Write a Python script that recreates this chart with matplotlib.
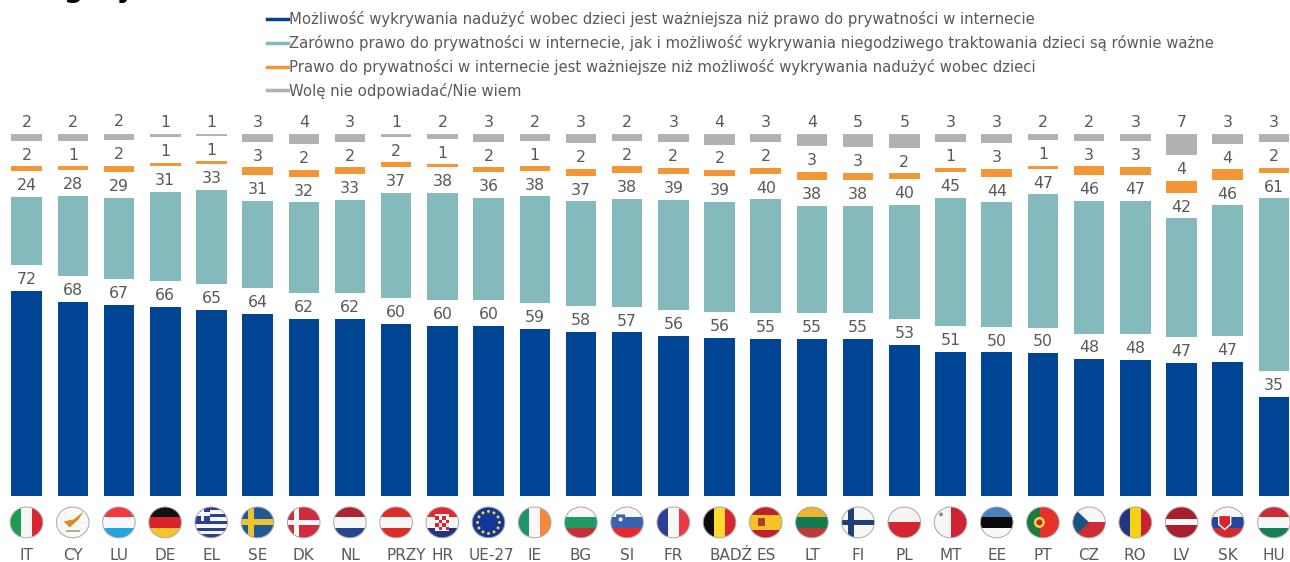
import numpy as np
import matplotlib
matplotlib.use("Agg")
import matplotlib.pyplot as plt
from matplotlib.lines import Line2D
from matplotlib.patches import Circle, Ellipse, Rectangle, Polygon
from matplotlib.transforms import ScaledTranslation

countries = ["IT", "CY", "LU", "DE", "EL", "SE", "DK", "NL", "PRZY", "HR", "UE-27", "IE", "BG", "SI",
             "FR", "BADŹ", "ES", "LT", "FI", "PL", "MT", "EE", "PT", "CZ", "RO", "LV", "SK", "HU"]
detect = [71.9, 68.1, 67.0, 66.3, 65.4, 64.0, 62.1, 62.1, 60.4, 59.8, 59.6, 58.55, 57.6, 57.4,
          56.3, 55.6, 55.1, 55.1, 55.1, 53.0, 50.6, 50.4, 50.1, 48.0, 47.7, 46.8, 47.0, 34.8]
both = [24.15, 28.1, 28.6, 31.35, 32.95, 30.6, 31.95, 32.75, 37.05, 37.5, 35.95, 37.6, 36.75, 37.8,
        38.7, 38.6, 40.0, 37.8, 37.6, 40.1, 45.1, 43.6, 46.75, 46.5, 46.9, 41.6, 46.0, 60.6]
privacy = [1.6, 1.4, 2.3, 1.3, 1.05, 2.7, 2.45, 2.45, 1.6, 1.05, 1.75, 1.45, 2.45, 2.45,
           2.1, 2.1, 2.1, 2.8, 2.7, 2.1, 1.4, 2.8, 1.05, 3.2, 2.8, 4.2, 3.6, 1.75]
dont_know = [2.35, 2.4, 2.4, 1.05, 0.6, 2.7, 3.6, 2.7, 1.05, 1.75, 2.7, 2.35, 3.2, 2.35,
             2.9, 3.75, 2.8, 4.3, 4.6, 4.8, 2.9, 3.2, 2.1, 2.3, 2.6, 7.4, 3.4, 2.9]
legend_labels = [
    "Możliwość wykrywania nadużyć wobec dzieci jest ważniejsza niż prawo do prywatności w internecie",
    "Zarówno prawo do prywatności w internecie, jak i możliwość wykrywania niegodziwego traktowania dzieci są równie ważne",
    "Prawo do prywatności w internecie jest ważniejsze niż możliwość wykrywania nadużyć wobec dzieci",
    "Wolę nie odpowiadać/Nie wiem",
]

W, H = 1290, 562
GAP = 9  # empty room left for the labels between the segments
colors = ["#004494", "#84BABB", "#F39736", "#B1B1B1"]
text_color = "#595959"

fig = plt.figure(figsize=(W / 100, H / 100), dpi=100)
ax = fig.add_axes([3.6 / W, (H - 496) / H, (W - 3.6) / W, 362 / H])

x = np.arange(len(countries))
bottom = np.zeros(len(countries))
for i, (vals, color) in enumerate(zip([detect, both, privacy, dont_know], colors)):
    vals = np.array(vals)
    ax.bar(x, vals, 0.66, bottom=bottom, color=color)
    for xi, b, v in zip(x, bottom, vals):
        ax.text(xi, b + v + 1.3, f"{v:.0f}", ha="center", va="bottom", fontsize=11.3,
                color=text_color, clip_on=False)
    bottom = bottom + vals + GAP

ax.set_xlim(-0.5, 27.35)
ax.set_ylim(0, 127)
ax.set_yticks([])
ax.set_xticks(x, countries)
ax.tick_params(axis="x", length=0, pad=37.5, labelsize=11, labelcolor=text_color)
for spine in ax.spines.values():
    spine.set_visible(False)

# the long labels sit right of their bars in the original
label_shift = {"PRZY": 10, "UE-27": 3, "BADŹ": 11}
for label in ax.get_xticklabels():
    if label.get_text() in label_shift:
        label.set_transform(label.get_transform() + ScaledTranslation(label_shift[label.get_text()] / 100, 0, fig.dpi_scale_trans))

handles = [Line2D([], [], color=c, lw=2.5) for c in colors]
fig.legend(handles, legend_labels, loc="upper left", bbox_to_anchor=(254 / W, 1 + 2 / H),
           frameon=False, fontsize=10.7, labelcolor=text_color, handlelength=1.4, handletextpad=0.05,
           labelspacing=0.52, borderaxespad=0.5)

# cut-off title at the top edge
fig.text(14 / W, 1 + 3 / H, "ategory)", fontsize=20, fontweight="bold", color="black", va="baseline")

# flags, in a pixel overlay
ov = fig.add_axes([0, 0, 1, 1], facecolor="none")
ov.set_xlim(0, W)
ov.set_ylim(H, 0)
ov.axis("off")
R = 16.3
RY = 15.4
CY = 522.4


def stripes(cx, cols, vertical=False, weights=None):
    weights = weights or [1] * len(cols)
    edges = np.cumsum([0] + weights) / sum(weights)
    out = []
    for c, a, b in zip(cols, edges[:-1], edges[1:]):
        if vertical:
            out.append(Rectangle((cx - R + a * 2 * R, CY - RY), (b - a) * 2 * R, 2 * RY, color=c, lw=0))
        else:
            out.append(Rectangle((cx - R, CY - RY + a * 2 * RY), 2 * R, (b - a) * 2 * RY, color=c, lw=0))
    return out


def cross(cx, bg, fg, w=6):
    return [Rectangle((cx - R, CY - RY), 2 * R, 2 * RY, color=bg, lw=0),
            Rectangle((cx - 7 - w / 2, CY - RY), w, 2 * RY, color=fg, lw=0),
            Rectangle((cx - R, CY - w / 2), 2 * R, w, color=fg, lw=0)]


def flag_patches(code, cx):
    if code == "IT":
        return stripes(cx, ["#1E9B50", "#F5F5F5", "#D9252F"], True)
    if code == "CY":
        return stripes(cx, ["#F7F7F5"]) + [
            Polygon([(cx - 9, CY - 1), (cx + 1, CY - 3), (cx + 11, CY - 11), (cx + 6, CY - 3), (cx - 3, CY + 5)],
                    color="#D98B2B", lw=0),
            Rectangle((cx - 7, CY + 8), 14, 1.5, color="#A9B59A", lw=0)]
    if code == "LU":
        return stripes(cx, ["#EF3B3B", "#F7F7F7", "#22A6DC"])
    if code == "DE":
        return stripes(cx, ["#111111", "#D8232A", "#F5C42C"])
    if code == "EL":
        out = stripes(cx, ["#2B3F94", "#F7F7F7"] * 4 + ["#2B3F94"])
        out += [Rectangle((cx - R, CY - RY), 15, 13.7, color="#2B3F94", lw=0),
                Rectangle((cx - R + 5.5, CY - RY), 3.5, 13.7, color="#F7F7F7", lw=0),
                Rectangle((cx - R, CY - RY + 5), 15, 3.5, color="#F7F7F7", lw=0)]
        return out
    if code == "SE":
        return cross(cx, "#1F5A96", "#F0C22E")
    if code == "DK":
        return cross(cx, "#D32B3E", "#F7F7F7", w=4.5)
    if code == "NL":
        return stripes(cx, ["#AE2430", "#F7F7F7", "#25468C"])
    if code == "PRZY":
        return stripes(cx, ["#DE2D26", "#F7F7F7", "#DE2D26"])
    if code == "HR":
        out = stripes(cx, ["#E3272E", "#F7F7F7", "#25347F"])
        out.append(Rectangle((cx - 7, CY - 8), 14, 17, color="#F3F3F3", lw=0))
        for r in range(4):
            for c in range(4):
                if (r + c) % 2 == 0:
                    out.append(Rectangle((cx - 7 + c * 3.5, CY - 6 + r * 3.5), 3.5, 3.5, color="#D4262C", lw=0))
        return out
    if code == "UE-27":
        out = stripes(cx, ["#12379A"])
        for a in np.arange(12) * np.pi / 6:
            out.append(Circle((cx + 11 * np.cos(a), CY + 11 * np.sin(a)), 1.5, color="#F6D32D", lw=0))
        return out
    if code == "IE":
        return stripes(cx, ["#1F9468", "#F7F7F7", "#F4883F"], True)
    if code == "BG":
        return stripes(cx, ["#F7F7F7", "#1F9A62", "#C62F33"])
    if code == "SI":
        out = stripes(cx, ["#F7F7F7", "#3B62B0", "#E7282D"])
        out.append(Polygon([(cx - 11, CY - 8), (cx - 2, CY - 8), (cx - 2, CY - 1), (cx - 6.5, CY + 3), (cx - 11, CY - 1)],
                           color="#3B62B0", lw=0))
        out.append(Circle((cx - 6.5, CY - 3), 2, color="white", lw=0))
        return out
    if code == "FR":
        return stripes(cx, ["#2C3F94", "#F7F7F7", "#EC3A44"], True)
    if code == "BADŹ":
        return stripes(cx, ["#0C0C0C", "#FBD92F", "#D9252F"], True)
    if code == "ES":
        return stripes(cx, ["#BE2128", "#F6C324", "#BE2128"], weights=[1, 2, 1]) + [
            Rectangle((cx - 8, CY - 4), 7, 8, color="#A5432A", lw=0)]
    if code == "LT":
        return stripes(cx, ["#EEB32F", "#127A4E", "#BF3A36"])
    if code == "FI":
        return cross(cx, "#F7F7F7", "#1F3F78", w=5.5)
    if code == "PL":
        return stripes(cx, ["#F7F3F1", "#D5242F"])
    if code == "MT":
        return stripes(cx, ["#F7F5F5", "#CE2330"], True) + [Circle((cx - 9.5, CY - 8), 2, color="#8F8F8F", lw=0)]
    if code == "EE":
        return stripes(cx, ["#4A80BE", "#0A0A0A", "#F7F7F7"])
    if code == "PT":
        return stripes(cx, ["#1D7A3D", "#E8302A"], True, weights=[2, 3]) + [
            Circle((cx - 3.5, CY), 5.5, color="#F3D54A", lw=0), Circle((cx - 3.5, CY), 3, color="#C3252B", lw=0)]
    if code == "CZ":
        return stripes(cx, ["#F7F7F7", "#CE2B34"]) + [
            Polygon([(cx - R, CY - RY), (cx, CY), (cx - R, CY + RY)], color="#165682", lw=0)]
    if code == "RO":
        return stripes(cx, ["#22357F", "#F5D313", "#CE2130"], True)
    if code == "LV":
        return stripes(cx, ["#A81F2D", "#F7F7F7", "#A81F2D"], weights=[2, 1, 2])
    if code == "SK":
        out = stripes(cx, ["#F7F7F7", "#1F48A0", "#D02B2F"])
        out.append(Polygon([(cx - 9, CY - 7), (cx + 3, CY - 7), (cx + 3, CY + 2), (cx - 3, CY + 7), (cx - 9, CY + 2)],
                           color="#D5262E", ec="white", lw=1))
        return out
    if code == "HU":
        return stripes(cx, ["#CE2A3A", "#F7F7F7", "#158055"])
    return []


for xi, code in zip(x, countries):
    cx = 26.5 + xi * 46.2
    clip = Ellipse((cx, CY), 2 * R, 2 * RY, transform=ov.transData)
    for p in flag_patches(code, cx):
        ov.add_patch(p)
        p.set_clip_path(clip)
    ov.add_patch(Ellipse((cx, CY), 2 * R, 2 * RY, fill=False, ec="#A8A8A8", lw=0.7))

fig.savefig("out.png", dpi=100)
